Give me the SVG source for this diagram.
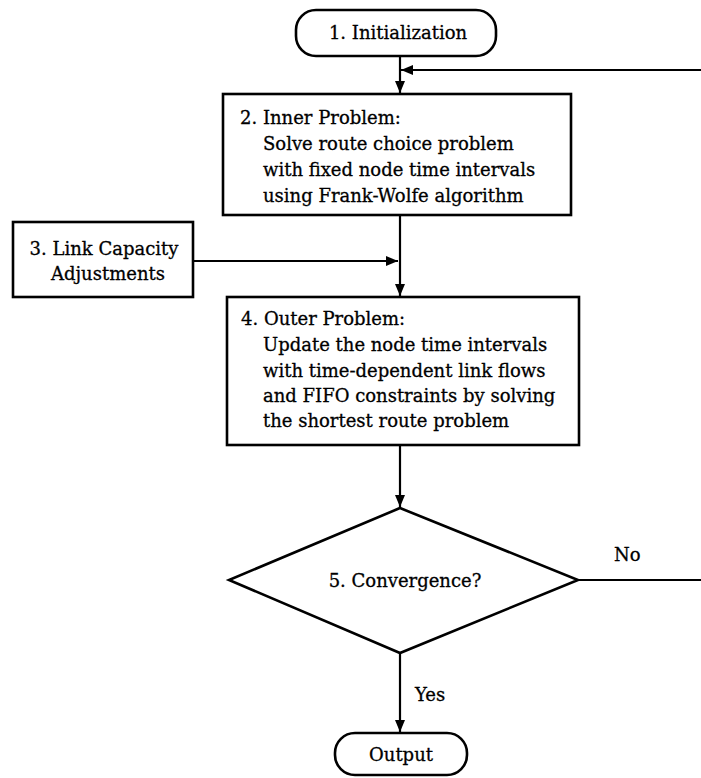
<svg xmlns="http://www.w3.org/2000/svg" width="701" height="778" viewBox="0 0 701 778">
<style>
.n{fill:#fff;stroke:#000;stroke-width:2.6}
.c{fill:none;stroke:#000;stroke-width:2.2}
text{font-family:"DejaVu Serif","Liberation Serif",serif;font-size:18px;fill:#000;stroke:#000;stroke-width:0.3}
.m{text-anchor:middle}
</style>
<defs>
<marker id="ah" viewBox="0 0 12 10" refX="12" refY="5" markerWidth="13" markerHeight="10" markerUnits="userSpaceOnUse" orient="auto">
<path d="M0,0 L12,5 L0,10 Z" fill="#000"/>
</marker>
</defs>
<g id="connectors">
<path class="c" d="M400,56 V93" marker-end="url(#ah)"/>
<path class="c" d="M579,580 H706 V70 H401" marker-end="url(#ah)"/>
<path class="c" d="M400,215 V296" marker-end="url(#ah)"/>
<path class="c" d="M193,261 H398" marker-end="url(#ah)"/>
<path class="c" d="M400,445 V507" marker-end="url(#ah)"/>
<path class="c" d="M400,653 V732" marker-end="url(#ah)"/>
<text x="614" y="561">No</text>
<text x="415" y="701">Yes</text>
</g>
<g id="n1">
<rect class="n" x="296" y="10" width="200" height="46" rx="20"/>
<text class="m" x="398" y="39">1. Initialization</text>
</g>
<g id="n2">
<rect class="n" x="223" y="94" width="348" height="121"/>
<text x="240" y="124">2. Inner Problem:</text>
<text x="263" y="150">Solve route choice problem</text>
<text x="263" y="176">with fixed node time intervals</text>
<text x="263" y="202">using Frank-Wolfe algorithm</text>
</g>
<g id="n3">
<rect class="n" x="13" y="222" width="180" height="75"/>
<text class="m" x="104" y="255">3. Link Capacity</text>
<text class="m" x="108" y="280">Adjustments</text>
</g>
<g id="n4">
<rect class="n" x="227" y="297" width="352" height="148"/>
<text x="241" y="325">4. Outer Problem:</text>
<text x="263" y="351">Update the node time intervals</text>
<text x="263" y="377">with time-dependent link flows</text>
<text x="263" y="402">and FIFO constraints by solving</text>
<text x="263" y="427">the shortest route problem</text>
</g>
<g id="n5">
<polygon class="n" points="400,508 578,580 400,653 229,580"/>
<text class="m" x="405" y="587">5. Convergence?</text>
</g>
<g id="n6">
<rect class="n" x="335" y="733" width="132" height="42" rx="20"/>
<text class="m" x="401" y="761">Output</text>
</g>
</svg>
